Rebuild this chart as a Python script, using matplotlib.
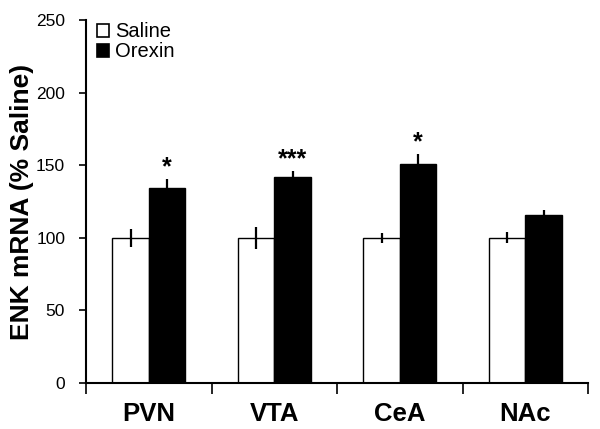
import numpy as np
import matplotlib
matplotlib.use('Agg')
import matplotlib.pyplot as plt
from matplotlib.patches import Patch

plt.rcParams['font.family'] = ['Liberation Sans', 'DejaVu Sans']

# data
regions = ['PVN', 'VTA', 'CeA', 'NAc']
saline = [100, 100, 100, 100]
saline_err = [6.3, 7.7, 3.4, 3.8]
orexin = [134, 141.7, 151, 115.5]
orexin_err = [6.5, 4.3, 7, 3.5]
stars = ['*', '***', '*', '']

x = np.arange(len(regions))
w = 0.29

fig = plt.figure(figsize=(6, 4.29), dpi=100)
ax = fig.add_axes([0.1433, 0.1072, 0.837, 0.8462])

ax.bar(x - w/2, saline, w, color='white', edgecolor='black', linewidth=1.0, zorder=2)
ax.bar(x + w/2, orexin, w, color='black', edgecolor='black', linewidth=1.0, zorder=2)
ax.errorbar(x - w/2, saline, yerr=saline_err, fmt='none', ecolor='black',
            elinewidth=1.6, capsize=0, zorder=3)
ax.errorbar(x + w/2, orexin, yerr=[[0]*4, orexin_err], fmt='none', ecolor='black',
            elinewidth=1.6, capsize=0, zorder=3)

for i, s in enumerate(stars):
    if s:
        ax.text(x[i] + w/2, orexin[i] + orexin_err[i] + 3, s, ha='center', va='baseline',
                fontsize=18, fontweight='bold')

ax.set_xlim(-0.5, 3.5)
ax.set_ylim(0, 250)
ax.set_yticks([0, 50, 100, 150, 200, 250])
ax.tick_params(axis='y', labelsize=12.5, length=5, width=1.2, direction='out', pad=10)
ax.set_xticks(x)
ax.set_xticklabels(regions, fontsize=18.5, fontweight='bold')
ax.tick_params(axis='x', which='major', length=0, pad=14)
ax.set_xticks(np.arange(-0.5, 4, 1), minor=True)
ax.tick_params(axis='x', which='minor', length=8, width=1.2, direction='out')

for s in ['top', 'right']:
    ax.spines[s].set_visible(False)
for s in ['left', 'bottom']:
    ax.spines[s].set_linewidth(1.5)

ax.set_ylabel('ENK mRNA (% Saline)', fontsize=19, fontweight='bold')
ax.yaxis.set_label_coords(-0.104, 0.5)

handles = [Patch(facecolor='white', edgecolor='black', linewidth=1.2),
           Patch(facecolor='black', edgecolor='black', linewidth=1.2)]
ax.legend(handles, ['Saline', 'Orexin'], loc='upper left', bbox_to_anchor=(0.01, 1.01),
          frameon=False, fontsize=14.5, handlelength=0.6, handleheight=0.6,
          handletextpad=0.3, labelspacing=0.05, borderaxespad=0, borderpad=0.3)

fig.savefig('out.png', dpi=100)
